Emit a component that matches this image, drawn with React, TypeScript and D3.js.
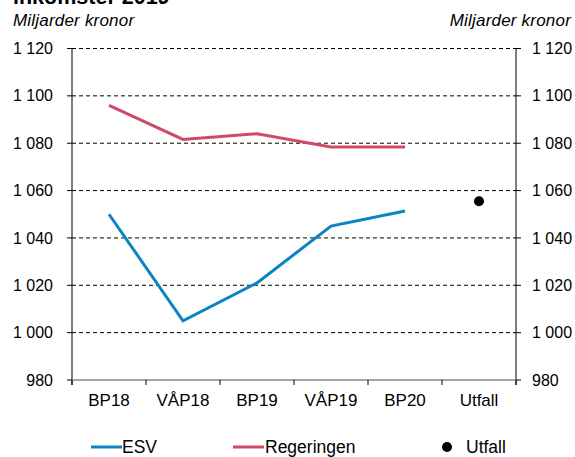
import * as d3 from "d3";

const categories = ["BP18", "VÅP18", "BP19", "VÅP19", "BP20", "Utfall"];
const esv = [1050, 1005, 1021, 1045, 1051.4];
const regeringen = [1096, 1081.6, 1084, 1078.4, 1078.4];
const utfall = 1055.5;
const yTicks = [980, 1000, 1020, 1040, 1060, 1080, 1100, 1120];

const W = 575;
const H = 457;
const m = { left: 72, right: 516, top: 48.5, bottom: 380 };

const blue = "#0a84c4";
const red = "#cf4a68";
const font = "Liberation Sans, Arial, sans-serif";

const fmt = d3.formatLocale({ decimal: ",", thousands: " ", grouping: [3], currency: ["", " kr"] }).format(",d");

const App = () => {
  const x = d3.scaleBand<string>().domain(categories).range([m.left, m.right]);
  const y = d3.scaleLinear().domain([980, 1120]).range([m.bottom, m.top]);
  const cx = (c: string) => (x(c) ?? 0) + x.bandwidth() / 2;

  const line = d3
    .line<number>()
    .x((_, i) => cx(categories[i]))
    .y((d) => y(d));

  const bounds = categories.map((c) => x(c) ?? 0).concat([m.right]);

  return (
    <svg width={W} height={H} style={{ position: "fixed", left: 0, top: 0, background: "#fff" }} fontFamily={font}>
      <text x={13} y={4} fontSize={21.5} fontWeight="bold" fill="#000">inkomster 2019</text>
      <text x={13} y={26} fontSize={17} fontStyle="italic" letterSpacing={0.2}>Miljarder kronor</text>
      <text x={571} y={26} fontSize={17} fontStyle="italic" letterSpacing={0.2} textAnchor="end">Miljarder kronor</text>

      {/* gridlines */}
      {yTicks.filter((t) => t > 980).map((t) => (
        <line key={t} x1={m.left} x2={m.right} y1={y(t)} y2={y(t)} stroke="#000" strokeWidth={1} strokeDasharray="4,3" />
      ))}

      {/* y axes */}
      <line x1={m.left} x2={m.left} y1={m.top} y2={m.bottom + 5} stroke="#000" />
      <line x1={m.right} x2={m.right} y1={m.top} y2={m.bottom + 5} stroke="#000" />
      {yTicks.map((t) => (
        <g key={t}>
          <line x1={m.left - 5} x2={m.left} y1={y(t)} y2={y(t)} stroke="#000" />
          <line x1={m.right} x2={m.right + 5} y1={y(t)} y2={y(t)} stroke="#000" />
          <text x={53} y={y(t)} dy="0.35em" fontSize={16} textAnchor="end">{fmt(t)}</text>
          <text x={532} y={y(t)} dy="0.35em" fontSize={16}>{fmt(t)}</text>
        </g>
      ))}

      {/* x axis */}
      <line x1={m.left} x2={m.right} y1={m.bottom} y2={m.bottom} stroke="#888" strokeWidth={1.5} />
      {bounds.map((b, i) => (
        <line key={i} x1={b} x2={b} y1={m.bottom} y2={m.bottom + 5} stroke="#000" />
      ))}
      {categories.map((c) => (
        <text key={c} x={cx(c)} y={406} fontSize={17} textAnchor="middle">{c}</text>
      ))}

      <path d={line(regeringen) ?? ""} fill="none" stroke={red} strokeWidth={3} />
      <path d={line(esv) ?? ""} fill="none" stroke={blue} strokeWidth={3} />
      <circle cx={cx("Utfall")} cy={y(utfall)} r={5} fill="#000" />

      {/* legend */}
      <line x1={91} x2={122} y1={447} y2={447} stroke={blue} strokeWidth={3} />
      <text x={122} y={447} dy="0.35em" fontSize={17.5}>ESV</text>
      <line x1={233} x2={264} y1={447} y2={447} stroke={red} strokeWidth={3} />
      <text x={265} y={447} dy="0.35em" fontSize={17.5}>Regeringen</text>
      <circle cx={447} cy={447} r={5} fill="#000" />
      <text x={466} y={447} dy="0.35em" fontSize={17.5}>Utfall</text>
    </svg>
  );
};

export default App;
